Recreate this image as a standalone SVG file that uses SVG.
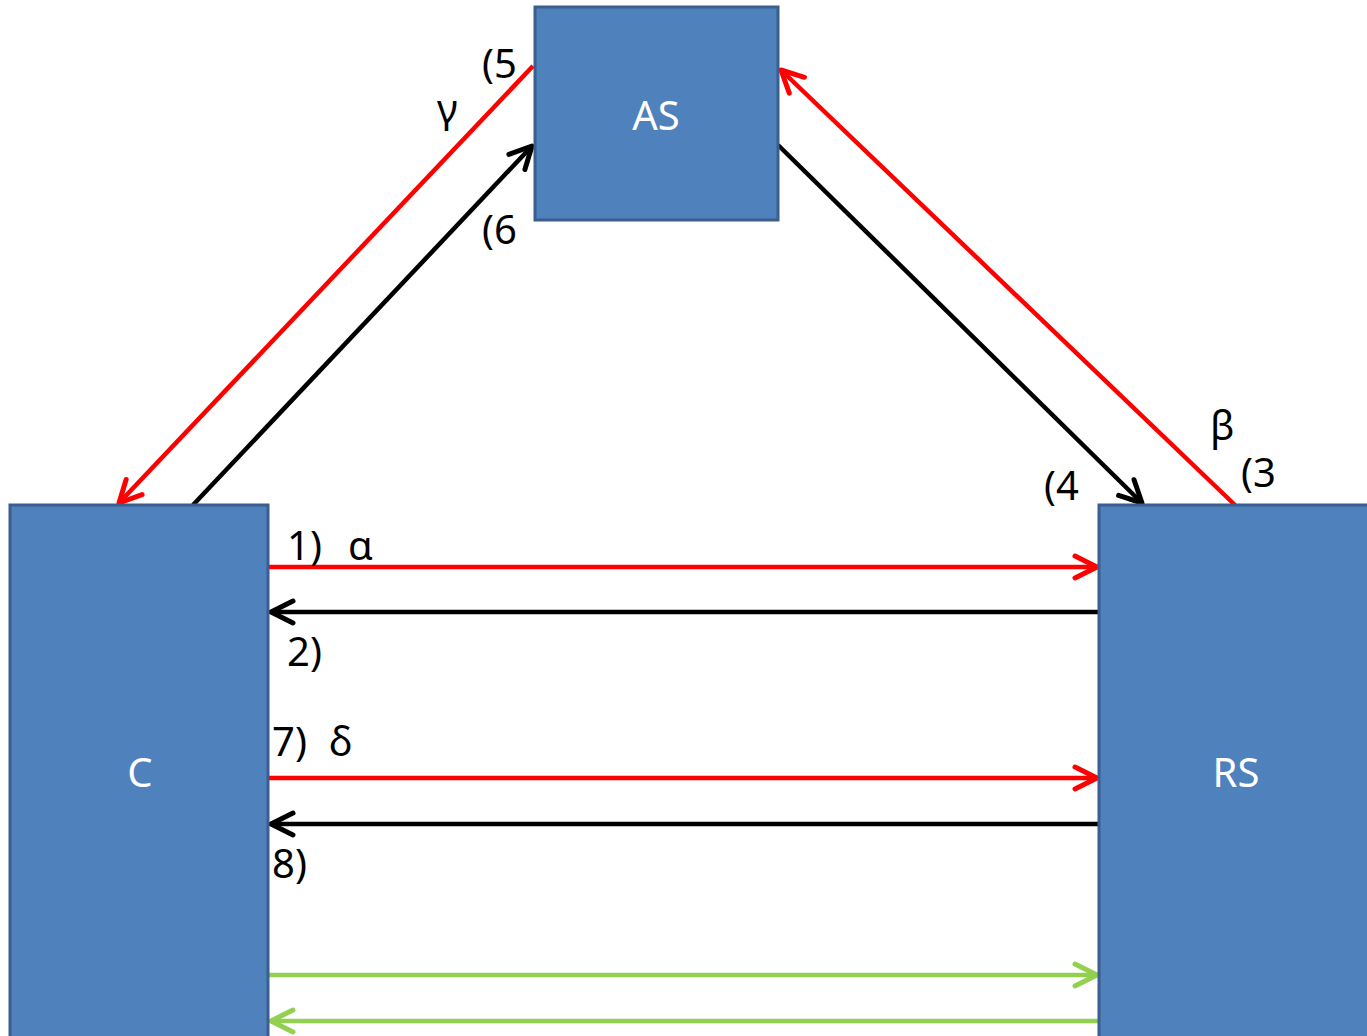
<svg xmlns="http://www.w3.org/2000/svg" width="1367" height="1036" viewBox="0 0 1367 1036">
<style>
.box{fill:#4F81BD;stroke:#3A5F8E;stroke-width:3}
.lbl{font-family:"Noto Sans","Open Sans",sans-serif;font-size:40px;fill:#000}
.nl{font-family:"Noto Sans","Open Sans",sans-serif;font-size:40px;fill:#fff;text-anchor:middle}
.r{stroke:#FF0000;stroke-width:4.5;fill:none}
.k{stroke:#000;stroke-width:4.5;fill:none}
.g{stroke:#92D050;stroke-width:4.5;fill:none}
</style>
<defs>
<marker id="ar" markerUnits="userSpaceOnUse" markerWidth="30" markerHeight="30" viewBox="-26 -15 30 30" refX="0" refY="0" orient="auto" overflow="visible"><path d="M-22,-11 L0,0 L-22,11" fill="none" stroke="#FF0000" stroke-width="5" stroke-linecap="round" stroke-linejoin="round"/></marker>
<marker id="ak" markerUnits="userSpaceOnUse" markerWidth="30" markerHeight="30" viewBox="-26 -15 30 30" refX="0" refY="0" orient="auto" overflow="visible"><path d="M-22,-11 L0,0 L-22,11" fill="none" stroke="#000" stroke-width="5" stroke-linecap="round" stroke-linejoin="round"/></marker>
<marker id="ag" markerUnits="userSpaceOnUse" markerWidth="30" markerHeight="30" viewBox="-26 -15 30 30" refX="0" refY="0" orient="auto" overflow="visible"><path d="M-22,-11 L0,0 L-22,11" fill="none" stroke="#92D050" stroke-width="5" stroke-linecap="round" stroke-linejoin="round"/></marker>
</defs>
<rect width="1367" height="1036" fill="#fff"/>
<g id="connectors">
<line class="r" x1="533" y1="66" x2="119" y2="503" marker-end="url(#ar)"/>
<line class="k" x1="193" y1="505" x2="532" y2="146" marker-end="url(#ak)"/>
<line class="k" x1="778" y1="145" x2="1142" y2="503" marker-end="url(#ak)"/>
<line class="r" x1="1235" y1="505" x2="781" y2="70" marker-end="url(#ar)"/>
<line class="r" x1="268" y1="567" x2="1097" y2="567" marker-end="url(#ar)"/>
<line class="k" x1="1099" y1="612" x2="271" y2="612" marker-end="url(#ak)"/>
<line class="r" x1="268" y1="778" x2="1097" y2="778" marker-end="url(#ar)"/>
<line class="k" x1="1099" y1="824" x2="271" y2="824" marker-end="url(#ak)"/>
<line class="g" x1="268" y1="975" x2="1097" y2="975" marker-end="url(#ag)"/>
<line class="g" x1="1099" y1="1021" x2="271" y2="1021" marker-end="url(#ag)"/>
</g>
<g id="AS"><rect class="box" x="535" y="7" width="243" height="213"/><text class="nl" x="656" y="130">AS</text></g>
<g id="C"><rect class="box" x="10" y="505" width="258" height="545"/><text class="nl" x="140" y="787">C</text></g>
<g id="RS"><rect class="box" x="1099" y="505" width="280" height="545"/><text class="nl" x="1236" y="787">RS</text></g>
<g id="labels">
<text class="lbl" x="482" y="78">(5</text>
<text class="lbl" x="437" y="123">γ</text>
<text class="lbl" x="482" y="244">(6</text>
<text class="lbl" x="1210" y="440">β</text>
<text class="lbl" x="1241" y="487">(3</text>
<text class="lbl" x="1044" y="500">(4</text>
<text class="lbl" x="287" y="560">1)<tspan x="348">α</tspan></text>
<text class="lbl" x="287" y="666">2)</text>
<text class="lbl" x="272" y="756">7)<tspan x="329">δ</tspan></text>
<text class="lbl" x="272" y="878">8)</text>
</g>
</svg>
